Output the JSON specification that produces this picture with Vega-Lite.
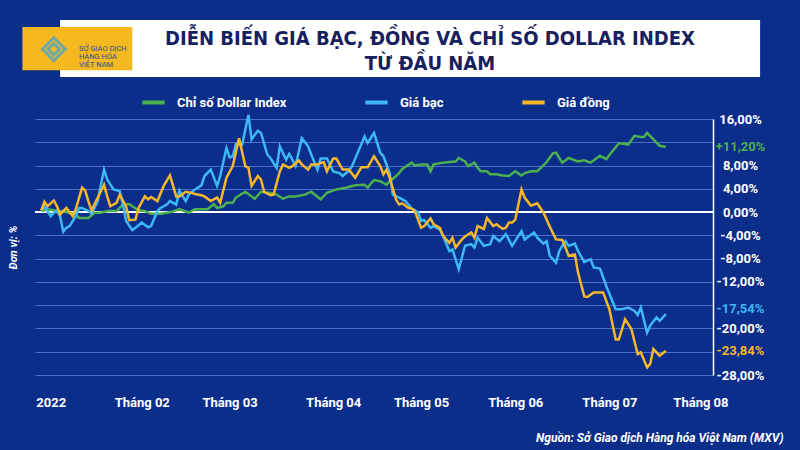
{
  "$schema": "https://vega.github.io/schema/vega-lite/v6.json",
  "autosize": "none",
  "width": 678,
  "height": 256,
  "padding": {"left": 35, "top": 119, "right": 87, "bottom": 75},
  "background": "#0b2e8a",
  "config": {"view": {"stroke": null}, "font": "Roboto"},
  "title": {
    "text": ["DIỄN BIẾN GIÁ BẠC, ĐỒNG VÀ CHỈ SỐ DOLLAR INDEX", "TỪ ĐẦU NĂM"],
    "font": "Liberation Sans Narrow, DejaVu Sans Condensed, Roboto",
    "fontSize": 20,
    "fontWeight": "bold",
    "color": "#17205e",
    "lineHeight": 25,
    "anchor": "middle",
    "frame": "group",
    "dx": 56,
    "dy": 58
  },
  "resolve": {"axis": {"x": "independent", "y": "independent"}},
  "layer": [
    {
      "data": {"values": [{}]},
      "mark": {"type": "rect", "color": "#ffffff", "clip": false},
      "encoding": {
        "x": {"datum": {"year": 2022, "month": 1, "date": 9, "utc": true}, "type": "temporal", "axis": null,
              "scale": {"type": "utc", "domain": [{"year": 2022, "month": 1, "date": 1, "utc": true}, {"year": 2022, "month": 8, "date": 5, "utc": true}]}},
        "x2": {"datum": {"year": 2022, "month": 8, "date": 20, "utc": true}},
        "y": {"datum": 33.0, "type": "quantitative", "axis": null, "scale": {"domain": [-28, 16]}},
        "y2": {"datum": 23.2}
      }
    },
    {
      "data": {"values": [{}]},
      "mark": {"type": "rect", "color": "#f6b81f", "clip": false},
      "encoding": {
        "x": {"datum": {"year": 2021, "month": 12, "date": 28, "utc": true}, "type": "temporal", "axis": null,
              "scale": {"type": "utc", "domain": [{"year": 2022, "month": 1, "date": 1, "utc": true}, {"year": 2022, "month": 8, "date": 5, "utc": true}]}},
        "x2": {"datum": {"year": 2022, "month": 2, "date": 1, "utc": true}},
        "y": {"datum": 31.8, "type": "quantitative", "axis": null, "scale": {"domain": [-28, 16]}},
        "y2": {"datum": 24.4}
      }
    },
    {
      "data": {"values": [{}]},
      "mark": {"type": "point", "shape": "diamond", "filled": false, "size": 520, "strokeWidth": 3, "color": "#35a3dc", "clip": false},
      "encoding": {
        "x": {"datum": {"year": 2022, "month": 1, "date": 7, "utc": true}, "type": "temporal", "axis": null,
              "scale": {"type": "utc", "domain": [{"year": 2022, "month": 1, "date": 1, "utc": true}, {"year": 2022, "month": 8, "date": 5, "utc": true}]}},
        "y": {"datum": 28.0, "type": "quantitative", "axis": null, "scale": {"domain": [-28, 16]}}
      }
    },
    {
      "data": {"values": [{}]},
      "mark": {"type": "point", "shape": "diamond", "filled": false, "size": 130, "strokeWidth": 3, "color": "#35a3dc", "clip": false},
      "encoding": {
        "x": {"datum": {"year": 2022, "month": 1, "date": 7, "utc": true}, "type": "temporal", "axis": null,
              "scale": {"type": "utc", "domain": [{"year": 2022, "month": 1, "date": 1, "utc": true}, {"year": 2022, "month": 8, "date": 5, "utc": true}]}},
        "y": {"datum": 28.0, "type": "quantitative", "axis": null, "scale": {"domain": [-28, 16]}}
      }
    },
    {
      "data": {"values": [{}]},
      "mark": {"type": "text", "text": "SỞ GIAO DỊCH\nHÀNG HÓA\nVIỆT NAM", "lineBreak": "\n", "align": "left", "baseline": "middle",
               "fontSize": 7.5, "lineHeight": 8, "color": "#1b4f9c", "clip": false},
      "encoding": {
        "x": {"datum": {"year": 2022, "month": 1, "date": 15, "utc": true}, "type": "temporal", "axis": null,
              "scale": {"type": "utc", "domain": [{"year": 2022, "month": 1, "date": 1, "utc": true}, {"year": 2022, "month": 8, "date": 5, "utc": true}]}},
        "y": {"datum": 28.0, "type": "quantitative", "axis": null, "scale": {"domain": [-28, 16]}}
      }
    },
    {
      "data": {"values": [{}]},
      "mark": {"type": "rule", "color": "#ffffff", "strokeWidth": 2},
      "encoding": {
        "y": {
          "datum": 0,
          "type": "quantitative",
          "scale": {"domain": [-28, 16]},
          "axis": {
            "orient": "left",
            "values": [-28, -24, -20, -16, -12, -8, -4, 0, 4, 8, 12, 16],
            "grid": true,
            "gridColor": "#4d70c6",
            "gridWidth": 1,
            "labels": false,
            "ticks": false,
            "domain": false,
            "title": "Đơn vị: %",
            "titleColor": "#ffffff",
            "titleFont": "Roboto",
            "titleFontStyle": "italic",
            "titleFontWeight": "bold",
            "titleFontSize": 11,
            "titlePadding": 17
          }
        }
      }
    },
    {
      "data": {
        "values": [
          {"date": "2022-01-03", "series": "Chỉ số Dollar Index", "value": 0.2},
          {"date": "2022-01-05", "series": "Chỉ số Dollar Index", "value": 0.5},
          {"date": "2022-01-07", "series": "Chỉ số Dollar Index", "value": 0.3},
          {"date": "2022-01-10", "series": "Chỉ số Dollar Index", "value": 0.1},
          {"date": "2022-01-12", "series": "Chỉ số Dollar Index", "value": -0.1},
          {"date": "2022-01-14", "series": "Chỉ số Dollar Index", "value": -0.4},
          {"date": "2022-01-15", "series": "Chỉ số Dollar Index", "value": -1.0},
          {"date": "2022-01-18", "series": "Chỉ số Dollar Index", "value": -1.0},
          {"date": "2022-01-20", "series": "Chỉ số Dollar Index", "value": -0.1},
          {"date": "2022-01-22", "series": "Chỉ số Dollar Index", "value": -0.1},
          {"date": "2022-01-24", "series": "Chỉ số Dollar Index", "value": 0.2},
          {"date": "2022-01-27", "series": "Chỉ số Dollar Index", "value": 0.2},
          {"date": "2022-01-29", "series": "Chỉ số Dollar Index", "value": 1.3},
          {"date": "2022-01-31", "series": "Chỉ số Dollar Index", "value": 1.4},
          {"date": "2022-02-01", "series": "Chỉ số Dollar Index", "value": 1.0},
          {"date": "2022-02-03", "series": "Chỉ số Dollar Index", "value": 0.3},
          {"date": "2022-02-05", "series": "Chỉ số Dollar Index", "value": 0.2},
          {"date": "2022-02-07", "series": "Chỉ số Dollar Index", "value": -0.3},
          {"date": "2022-02-10", "series": "Chỉ số Dollar Index", "value": -0.3},
          {"date": "2022-02-12", "series": "Chỉ số Dollar Index", "value": -0.1},
          {"date": "2022-02-14", "series": "Chỉ số Dollar Index", "value": 0.1},
          {"date": "2022-02-16", "series": "Chỉ số Dollar Index", "value": 0.5},
          {"date": "2022-02-18", "series": "Chỉ số Dollar Index", "value": 0.1},
          {"date": "2022-02-19", "series": "Chỉ số Dollar Index", "value": -0.1},
          {"date": "2022-02-21", "series": "Chỉ số Dollar Index", "value": 0.5},
          {"date": "2022-02-25", "series": "Chỉ số Dollar Index", "value": 0.5},
          {"date": "2022-02-27", "series": "Chỉ số Dollar Index", "value": 1.4},
          {"date": "2022-02-28", "series": "Chỉ số Dollar Index", "value": 0.7},
          {"date": "2022-03-02", "series": "Chỉ số Dollar Index", "value": 1.0},
          {"date": "2022-03-03", "series": "Chỉ số Dollar Index", "value": 1.6},
          {"date": "2022-03-05", "series": "Chỉ số Dollar Index", "value": 1.6},
          {"date": "2022-03-06", "series": "Chỉ số Dollar Index", "value": 2.5},
          {"date": "2022-03-09", "series": "Chỉ số Dollar Index", "value": 3.5},
          {"date": "2022-03-12", "series": "Chỉ số Dollar Index", "value": 2.3},
          {"date": "2022-03-14", "series": "Chỉ số Dollar Index", "value": 3.5},
          {"date": "2022-03-17", "series": "Chỉ số Dollar Index", "value": 3.3},
          {"date": "2022-03-19", "series": "Chỉ số Dollar Index", "value": 3.0},
          {"date": "2022-03-21", "series": "Chỉ số Dollar Index", "value": 2.3},
          {"date": "2022-03-23", "series": "Chỉ số Dollar Index", "value": 2.7},
          {"date": "2022-03-25", "series": "Chỉ số Dollar Index", "value": 2.7},
          {"date": "2022-03-28", "series": "Chỉ số Dollar Index", "value": 3.0},
          {"date": "2022-03-30", "series": "Chỉ số Dollar Index", "value": 3.5},
          {"date": "2022-04-02", "series": "Chỉ số Dollar Index", "value": 2.2},
          {"date": "2022-04-04", "series": "Chỉ số Dollar Index", "value": 3.3},
          {"date": "2022-04-07", "series": "Chỉ số Dollar Index", "value": 3.9},
          {"date": "2022-04-10", "series": "Chỉ số Dollar Index", "value": 4.2},
          {"date": "2022-04-13", "series": "Chỉ số Dollar Index", "value": 4.6},
          {"date": "2022-04-16", "series": "Chỉ số Dollar Index", "value": 4.7},
          {"date": "2022-04-17", "series": "Chỉ số Dollar Index", "value": 4.2},
          {"date": "2022-04-18", "series": "Chỉ số Dollar Index", "value": 4.9},
          {"date": "2022-04-19", "series": "Chỉ số Dollar Index", "value": 5.5},
          {"date": "2022-04-21", "series": "Chỉ số Dollar Index", "value": 5.3},
          {"date": "2022-04-23", "series": "Chỉ số Dollar Index", "value": 4.7},
          {"date": "2022-04-24", "series": "Chỉ số Dollar Index", "value": 5.3},
          {"date": "2022-04-25", "series": "Chỉ số Dollar Index", "value": 5.7},
          {"date": "2022-04-27", "series": "Chỉ số Dollar Index", "value": 6.7},
          {"date": "2022-04-28", "series": "Chỉ số Dollar Index", "value": 7.4},
          {"date": "2022-05-01", "series": "Chỉ số Dollar Index", "value": 8.5},
          {"date": "2022-05-02", "series": "Chỉ số Dollar Index", "value": 8.0},
          {"date": "2022-05-04", "series": "Chỉ số Dollar Index", "value": 8.2},
          {"date": "2022-05-06", "series": "Chỉ số Dollar Index", "value": 8.2},
          {"date": "2022-05-07", "series": "Chỉ số Dollar Index", "value": 7.0},
          {"date": "2022-05-08", "series": "Chỉ số Dollar Index", "value": 8.2},
          {"date": "2022-05-11", "series": "Chỉ số Dollar Index", "value": 8.5},
          {"date": "2022-05-13", "series": "Chỉ số Dollar Index", "value": 8.6},
          {"date": "2022-05-15", "series": "Chỉ số Dollar Index", "value": 8.7},
          {"date": "2022-05-16", "series": "Chỉ số Dollar Index", "value": 9.3},
          {"date": "2022-05-18", "series": "Chỉ số Dollar Index", "value": 8.7},
          {"date": "2022-05-19", "series": "Chỉ số Dollar Index", "value": 7.9},
          {"date": "2022-05-21", "series": "Chỉ số Dollar Index", "value": 8.5},
          {"date": "2022-05-22", "series": "Chỉ số Dollar Index", "value": 7.6},
          {"date": "2022-05-23", "series": "Chỉ số Dollar Index", "value": 7.0},
          {"date": "2022-05-25", "series": "Chỉ số Dollar Index", "value": 7.0},
          {"date": "2022-05-26", "series": "Chỉ số Dollar Index", "value": 6.5},
          {"date": "2022-05-28", "series": "Chỉ số Dollar Index", "value": 6.5},
          {"date": "2022-05-30", "series": "Chỉ số Dollar Index", "value": 6.3},
          {"date": "2022-06-01", "series": "Chỉ số Dollar Index", "value": 6.2},
          {"date": "2022-06-03", "series": "Chỉ số Dollar Index", "value": 7.0},
          {"date": "2022-06-05", "series": "Chỉ số Dollar Index", "value": 6.3},
          {"date": "2022-06-06", "series": "Chỉ số Dollar Index", "value": 6.7},
          {"date": "2022-06-08", "series": "Chỉ số Dollar Index", "value": 7.0},
          {"date": "2022-06-10", "series": "Chỉ số Dollar Index", "value": 7.0},
          {"date": "2022-06-13", "series": "Chỉ số Dollar Index", "value": 8.6},
          {"date": "2022-06-15", "series": "Chỉ số Dollar Index", "value": 10.1},
          {"date": "2022-06-16", "series": "Chỉ số Dollar Index", "value": 10.2},
          {"date": "2022-06-18", "series": "Chỉ số Dollar Index", "value": 8.5},
          {"date": "2022-06-20", "series": "Chỉ số Dollar Index", "value": 9.3},
          {"date": "2022-06-23", "series": "Chỉ số Dollar Index", "value": 8.7},
          {"date": "2022-06-25", "series": "Chỉ số Dollar Index", "value": 8.9},
          {"date": "2022-06-27", "series": "Chỉ số Dollar Index", "value": 8.5},
          {"date": "2022-06-30", "series": "Chỉ số Dollar Index", "value": 9.7},
          {"date": "2022-07-02", "series": "Chỉ số Dollar Index", "value": 9.1},
          {"date": "2022-07-04", "series": "Chỉ số Dollar Index", "value": 10.5},
          {"date": "2022-07-06", "series": "Chỉ số Dollar Index", "value": 11.8},
          {"date": "2022-07-07", "series": "Chỉ số Dollar Index", "value": 11.8},
          {"date": "2022-07-09", "series": "Chỉ số Dollar Index", "value": 11.6},
          {"date": "2022-07-11", "series": "Chỉ số Dollar Index", "value": 13.1},
          {"date": "2022-07-13", "series": "Chỉ số Dollar Index", "value": 12.9},
          {"date": "2022-07-14", "series": "Chỉ số Dollar Index", "value": 12.9},
          {"date": "2022-07-15", "series": "Chỉ số Dollar Index", "value": 13.6},
          {"date": "2022-07-17", "series": "Chỉ số Dollar Index", "value": 12.5},
          {"date": "2022-07-19", "series": "Chỉ số Dollar Index", "value": 11.4},
          {"date": "2022-07-21", "series": "Chỉ số Dollar Index", "value": 11.2},

          {"date": "2022-01-03", "series": "Giá bạc", "value": 0.3},
          {"date": "2022-01-04", "series": "Giá bạc", "value": 1.0},
          {"date": "2022-01-06", "series": "Giá bạc", "value": -0.7},
          {"date": "2022-01-07", "series": "Giá bạc", "value": -0.1},
          {"date": "2022-01-08", "series": "Giá bạc", "value": 0.2},
          {"date": "2022-01-09", "series": "Giá bạc", "value": -0.7},
          {"date": "2022-01-10", "series": "Giá bạc", "value": -3.4},
          {"date": "2022-01-11", "series": "Giá bạc", "value": -2.7},
          {"date": "2022-01-12", "series": "Giá bạc", "value": -2.4},
          {"date": "2022-01-14", "series": "Giá bạc", "value": -0.7},
          {"date": "2022-01-15", "series": "Giá bạc", "value": 0.7},
          {"date": "2022-01-16", "series": "Giá bạc", "value": 0.7},
          {"date": "2022-01-18", "series": "Giá bạc", "value": 0.2},
          {"date": "2022-01-19", "series": "Giá bạc", "value": -0.3},
          {"date": "2022-01-21", "series": "Giá bạc", "value": 1.9},
          {"date": "2022-01-22", "series": "Giá bạc", "value": 4.7},
          {"date": "2022-01-23", "series": "Giá bạc", "value": 7.3},
          {"date": "2022-01-24", "series": "Giá bạc", "value": 5.6},
          {"date": "2022-01-26", "series": "Giá bạc", "value": 3.9},
          {"date": "2022-01-28", "series": "Giá bạc", "value": 3.6},
          {"date": "2022-01-29", "series": "Giá bạc", "value": 1.3},
          {"date": "2022-01-30", "series": "Giá bạc", "value": -1.5},
          {"date": "2022-02-01", "series": "Giá bạc", "value": -3.1},
          {"date": "2022-02-02", "series": "Giá bạc", "value": -2.7},
          {"date": "2022-02-04", "series": "Giá bạc", "value": -1.8},
          {"date": "2022-02-06", "series": "Giá bạc", "value": -2.6},
          {"date": "2022-02-07", "series": "Giá bạc", "value": -2.4},
          {"date": "2022-02-09", "series": "Giá bạc", "value": 0.2},
          {"date": "2022-02-10", "series": "Giá bạc", "value": 0.7},
          {"date": "2022-02-12", "series": "Giá bạc", "value": 1.3},
          {"date": "2022-02-13", "series": "Giá bạc", "value": 1.9},
          {"date": "2022-02-15", "series": "Giá bạc", "value": 1.3},
          {"date": "2022-02-16", "series": "Giá bạc", "value": 3.7},
          {"date": "2022-02-18", "series": "Giá bạc", "value": 1.9},
          {"date": "2022-02-19", "series": "Giá bạc", "value": 3.0},
          {"date": "2022-02-21", "series": "Giá bạc", "value": 3.9},
          {"date": "2022-02-23", "series": "Giá bạc", "value": 4.6},
          {"date": "2022-02-24", "series": "Giá bạc", "value": 6.2},
          {"date": "2022-02-26", "series": "Giá bạc", "value": 7.3},
          {"date": "2022-02-28", "series": "Giá bạc", "value": 4.5},
          {"date": "2022-03-01", "series": "Giá bạc", "value": 6.2},
          {"date": "2022-03-03", "series": "Giá bạc", "value": 11.0},
          {"date": "2022-03-04", "series": "Giá bạc", "value": 9.4},
          {"date": "2022-03-05", "series": "Giá bạc", "value": 9.6},
          {"date": "2022-03-06", "series": "Giá bạc", "value": 11.7},
          {"date": "2022-03-08", "series": "Giá bạc", "value": 11.6},
          {"date": "2022-03-10", "series": "Giá bạc", "value": 16.7},
          {"date": "2022-03-11", "series": "Giá bạc", "value": 12.5},
          {"date": "2022-03-13", "series": "Giá bạc", "value": 14.0},
          {"date": "2022-03-14", "series": "Giá bạc", "value": 13.6},
          {"date": "2022-03-16", "series": "Giá bạc", "value": 9.9},
          {"date": "2022-03-17", "series": "Giá bạc", "value": 9.3},
          {"date": "2022-03-19", "series": "Giá bạc", "value": 7.6},
          {"date": "2022-03-20", "series": "Giá bạc", "value": 11.3},
          {"date": "2022-03-22", "series": "Giá bạc", "value": 9.0},
          {"date": "2022-03-23", "series": "Giá bạc", "value": 10.0},
          {"date": "2022-03-24", "series": "Giá bạc", "value": 9.0},
          {"date": "2022-03-25", "series": "Giá bạc", "value": 7.9},
          {"date": "2022-03-27", "series": "Giá bạc", "value": 12.7},
          {"date": "2022-03-29", "series": "Giá bạc", "value": 11.3},
          {"date": "2022-03-30", "series": "Giá bạc", "value": 9.9},
          {"date": "2022-04-01", "series": "Giá bạc", "value": 7.3},
          {"date": "2022-04-02", "series": "Giá bạc", "value": 9.2},
          {"date": "2022-04-04", "series": "Giá bạc", "value": 9.2},
          {"date": "2022-04-06", "series": "Giá bạc", "value": 7.0},
          {"date": "2022-04-08", "series": "Giá bạc", "value": 6.7},
          {"date": "2022-04-09", "series": "Giá bạc", "value": 6.2},
          {"date": "2022-04-11", "series": "Giá bạc", "value": 7.1},
          {"date": "2022-04-12", "series": "Giá bạc", "value": 7.9},
          {"date": "2022-04-16", "series": "Giá bạc", "value": 13.0},
          {"date": "2022-04-17", "series": "Giá bạc", "value": 11.9},
          {"date": "2022-04-19", "series": "Giá bạc", "value": 13.6},
          {"date": "2022-04-21", "series": "Giá bạc", "value": 10.2},
          {"date": "2022-04-22", "series": "Giá bạc", "value": 9.6},
          {"date": "2022-04-24", "series": "Giá bạc", "value": 6.7},
          {"date": "2022-04-25", "series": "Giá bạc", "value": 3.0},
          {"date": "2022-04-27", "series": "Giá bạc", "value": 2.5},
          {"date": "2022-04-29", "series": "Giá bạc", "value": 1.9},
          {"date": "2022-05-01", "series": "Giá bạc", "value": 0.6},
          {"date": "2022-05-03", "series": "Giá bạc", "value": 0.0},
          {"date": "2022-05-04", "series": "Giá bạc", "value": -1.5},
          {"date": "2022-05-05", "series": "Giá bạc", "value": -1.4},
          {"date": "2022-05-07", "series": "Giá bạc", "value": -2.7},
          {"date": "2022-05-08", "series": "Giá bạc", "value": -2.4},
          {"date": "2022-05-10", "series": "Giá bạc", "value": -3.0},
          {"date": "2022-05-11", "series": "Giá bạc", "value": -4.1},
          {"date": "2022-05-13", "series": "Giá bạc", "value": -6.7},
          {"date": "2022-05-14", "series": "Giá bạc", "value": -6.4},
          {"date": "2022-05-16", "series": "Giá bạc", "value": -9.8},
          {"date": "2022-05-17", "series": "Giá bạc", "value": -7.8},
          {"date": "2022-05-18", "series": "Giá bạc", "value": -5.8},
          {"date": "2022-05-20", "series": "Giá bạc", "value": -5.5},
          {"date": "2022-05-21", "series": "Giá bạc", "value": -6.1},
          {"date": "2022-05-22", "series": "Giá bạc", "value": -4.4},
          {"date": "2022-05-24", "series": "Giá bạc", "value": -5.8},
          {"date": "2022-05-26", "series": "Giá bạc", "value": -5.5},
          {"date": "2022-05-27", "series": "Giá bạc", "value": -4.1},
          {"date": "2022-05-29", "series": "Giá bạc", "value": -5.0},
          {"date": "2022-05-31", "series": "Giá bạc", "value": -3.8},
          {"date": "2022-06-02", "series": "Giá bạc", "value": -5.8},
          {"date": "2022-06-04", "series": "Giá bạc", "value": -4.1},
          {"date": "2022-06-05", "series": "Giá bạc", "value": -3.3},
          {"date": "2022-06-06", "series": "Giá bạc", "value": -4.7},
          {"date": "2022-06-09", "series": "Giá bạc", "value": -3.5},
          {"date": "2022-06-10", "series": "Giá bạc", "value": -4.4},
          {"date": "2022-06-12", "series": "Giá bạc", "value": -5.4},
          {"date": "2022-06-13", "series": "Giá bạc", "value": -5.0},
          {"date": "2022-06-14", "series": "Giá bạc", "value": -7.5},
          {"date": "2022-06-16", "series": "Giá bạc", "value": -8.7},
          {"date": "2022-06-17", "series": "Giá bạc", "value": -6.7},
          {"date": "2022-06-19", "series": "Giá bạc", "value": -5.0},
          {"date": "2022-06-20", "series": "Giá bạc", "value": -5.8},
          {"date": "2022-06-22", "series": "Giá bạc", "value": -5.4},
          {"date": "2022-06-23", "series": "Giá bạc", "value": -6.7},
          {"date": "2022-06-25", "series": "Giá bạc", "value": -8.6},
          {"date": "2022-06-27", "series": "Giá bạc", "value": -8.1},
          {"date": "2022-06-28", "series": "Giá bạc", "value": -9.5},
          {"date": "2022-06-30", "series": "Giá bạc", "value": -9.7},
          {"date": "2022-07-02", "series": "Giá bạc", "value": -12.7},
          {"date": "2022-07-05", "series": "Giá bạc", "value": -16.7},
          {"date": "2022-07-07", "series": "Giá bạc", "value": -16.7},
          {"date": "2022-07-09", "series": "Giá bạc", "value": -16.4},
          {"date": "2022-07-11", "series": "Giá bạc", "value": -17.0},
          {"date": "2022-07-12", "series": "Giá bạc", "value": -17.7},
          {"date": "2022-07-13", "series": "Giá bạc", "value": -16.4},
          {"date": "2022-07-15", "series": "Giá bạc", "value": -20.7},
          {"date": "2022-07-16", "series": "Giá bạc", "value": -19.5},
          {"date": "2022-07-18", "series": "Giá bạc", "value": -18.1},
          {"date": "2022-07-19", "series": "Giá bạc", "value": -18.7},
          {"date": "2022-07-21", "series": "Giá bạc", "value": -17.54},

          {"date": "2022-01-03", "series": "Giá đồng", "value": 0.3},
          {"date": "2022-01-04", "series": "Giá đồng", "value": 1.8},
          {"date": "2022-01-05", "series": "Giá đồng", "value": 1.0},
          {"date": "2022-01-07", "series": "Giá đồng", "value": 2.0},
          {"date": "2022-01-08", "series": "Giá đồng", "value": 1.0},
          {"date": "2022-01-09", "series": "Giá đồng", "value": -0.4},
          {"date": "2022-01-11", "series": "Giá đồng", "value": 0.7},
          {"date": "2022-01-13", "series": "Giá đồng", "value": -0.7},
          {"date": "2022-01-14", "series": "Giá đồng", "value": 0.5},
          {"date": "2022-01-16", "series": "Giá đồng", "value": 4.2},
          {"date": "2022-01-17", "series": "Giá đồng", "value": 3.7},
          {"date": "2022-01-18", "series": "Giá đồng", "value": 1.9},
          {"date": "2022-01-19", "series": "Giá đồng", "value": 0.3},
          {"date": "2022-01-21", "series": "Giá đồng", "value": 2.5},
          {"date": "2022-01-23", "series": "Giá đồng", "value": 4.7},
          {"date": "2022-01-24", "series": "Giá đồng", "value": 2.7},
          {"date": "2022-01-25", "series": "Giá đồng", "value": 1.0},
          {"date": "2022-01-27", "series": "Giá đồng", "value": 1.6},
          {"date": "2022-01-28", "series": "Giá đồng", "value": 3.0},
          {"date": "2022-01-30", "series": "Giá đồng", "value": 1.0},
          {"date": "2022-01-31", "series": "Giá đồng", "value": -1.4},
          {"date": "2022-02-02", "series": "Giá đồng", "value": -1.3},
          {"date": "2022-02-03", "series": "Giá đồng", "value": 0.7},
          {"date": "2022-02-05", "series": "Giá đồng", "value": 2.7},
          {"date": "2022-02-06", "series": "Giá đồng", "value": 2.2},
          {"date": "2022-02-07", "series": "Giá đồng", "value": 2.6},
          {"date": "2022-02-09", "series": "Giá đồng", "value": 1.9},
          {"date": "2022-02-11", "series": "Giá đồng", "value": 4.5},
          {"date": "2022-02-13", "series": "Giá đồng", "value": 6.3},
          {"date": "2022-02-15", "series": "Giá đồng", "value": 2.7},
          {"date": "2022-02-16", "series": "Giá đồng", "value": 2.7},
          {"date": "2022-02-18", "series": "Giá đồng", "value": 3.5},
          {"date": "2022-02-20", "series": "Giá đồng", "value": 3.3},
          {"date": "2022-02-21", "series": "Giá đồng", "value": 3.1},
          {"date": "2022-02-23", "series": "Giá đồng", "value": 2.9},
          {"date": "2022-02-24", "series": "Giá đồng", "value": 2.7},
          {"date": "2022-02-26", "series": "Giá đồng", "value": 1.9},
          {"date": "2022-02-28", "series": "Giá đồng", "value": 2.5},
          {"date": "2022-03-01", "series": "Giá đồng", "value": 1.6},
          {"date": "2022-03-03", "series": "Giá đồng", "value": 5.9},
          {"date": "2022-03-05", "series": "Giá đồng", "value": 7.9},
          {"date": "2022-03-07", "series": "Giá đồng", "value": 12.7},
          {"date": "2022-03-09", "series": "Giá đồng", "value": 7.9},
          {"date": "2022-03-10", "series": "Giá đồng", "value": 7.6},
          {"date": "2022-03-11", "series": "Giá đồng", "value": 4.5},
          {"date": "2022-03-13", "series": "Giá đồng", "value": 6.2},
          {"date": "2022-03-14", "series": "Giá đồng", "value": 5.6},
          {"date": "2022-03-15", "series": "Giá đồng", "value": 3.5},
          {"date": "2022-03-17", "series": "Giá đồng", "value": 2.9},
          {"date": "2022-03-18", "series": "Giá đồng", "value": 3.0},
          {"date": "2022-03-20", "series": "Giá đồng", "value": 7.0},
          {"date": "2022-03-21", "series": "Giá đồng", "value": 8.2},
          {"date": "2022-03-23", "series": "Giá đồng", "value": 7.6},
          {"date": "2022-03-24", "series": "Giá đồng", "value": 7.9},
          {"date": "2022-03-26", "series": "Giá đồng", "value": 8.9},
          {"date": "2022-03-27", "series": "Giá đồng", "value": 8.2},
          {"date": "2022-03-29", "series": "Giá đồng", "value": 7.3},
          {"date": "2022-03-30", "series": "Giá đồng", "value": 8.2},
          {"date": "2022-04-01", "series": "Giá đồng", "value": 8.2},
          {"date": "2022-04-03", "series": "Giá đồng", "value": 8.6},
          {"date": "2022-04-04", "series": "Giá đồng", "value": 7.0},
          {"date": "2022-04-06", "series": "Giá đồng", "value": 9.2},
          {"date": "2022-04-07", "series": "Giá đồng", "value": 9.2},
          {"date": "2022-04-09", "series": "Giá đồng", "value": 7.3},
          {"date": "2022-04-11", "series": "Giá đồng", "value": 7.3},
          {"date": "2022-04-13", "series": "Giá đồng", "value": 5.9},
          {"date": "2022-04-15", "series": "Giá đồng", "value": 7.7},
          {"date": "2022-04-17", "series": "Giá đồng", "value": 7.7},
          {"date": "2022-04-19", "series": "Giá đồng", "value": 9.6},
          {"date": "2022-04-21", "series": "Giá đồng", "value": 7.9},
          {"date": "2022-04-22", "series": "Giá đồng", "value": 6.5},
          {"date": "2022-04-23", "series": "Giá đồng", "value": 7.3},
          {"date": "2022-04-24", "series": "Giá đồng", "value": 5.9},
          {"date": "2022-04-26", "series": "Giá đồng", "value": 2.2},
          {"date": "2022-04-27", "series": "Giá đồng", "value": 1.3},
          {"date": "2022-04-28", "series": "Giá đồng", "value": 1.5},
          {"date": "2022-04-30", "series": "Giá đồng", "value": 0.7},
          {"date": "2022-05-01", "series": "Giá đồng", "value": 0.6},
          {"date": "2022-05-02", "series": "Giá đồng", "value": 0.2},
          {"date": "2022-05-04", "series": "Giá đồng", "value": -2.7},
          {"date": "2022-05-05", "series": "Giá đồng", "value": -2.4},
          {"date": "2022-05-07", "series": "Giá đồng", "value": -1.1},
          {"date": "2022-05-08", "series": "Giá đồng", "value": -2.1},
          {"date": "2022-05-10", "series": "Giá đồng", "value": -2.7},
          {"date": "2022-05-11", "series": "Giá đồng", "value": -4.1},
          {"date": "2022-05-13", "series": "Giá đồng", "value": -5.3},
          {"date": "2022-05-14", "series": "Giá đồng", "value": -4.4},
          {"date": "2022-05-15", "series": "Giá đồng", "value": -6.1},
          {"date": "2022-05-17", "series": "Giá đồng", "value": -4.7},
          {"date": "2022-05-18", "series": "Giá đồng", "value": -4.2},
          {"date": "2022-05-20", "series": "Giá đồng", "value": -3.5},
          {"date": "2022-05-21", "series": "Giá đồng", "value": -4.4},
          {"date": "2022-05-22", "series": "Giá đồng", "value": -2.4},
          {"date": "2022-05-24", "series": "Giá đồng", "value": -2.9},
          {"date": "2022-05-25", "series": "Giá đồng", "value": -1.0},
          {"date": "2022-05-27", "series": "Giá đồng", "value": -2.4},
          {"date": "2022-05-28", "series": "Giá đồng", "value": -2.1},
          {"date": "2022-05-30", "series": "Giá đồng", "value": -2.9},
          {"date": "2022-05-31", "series": "Giá đồng", "value": -2.7},
          {"date": "2022-06-01", "series": "Giá đồng", "value": -1.8},
          {"date": "2022-06-02", "series": "Giá đồng", "value": -1.8},
          {"date": "2022-06-03", "series": "Giá đồng", "value": -1.3},
          {"date": "2022-06-05", "series": "Giá đồng", "value": 3.9},
          {"date": "2022-06-06", "series": "Giá đồng", "value": 2.5},
          {"date": "2022-06-08", "series": "Giá đồng", "value": 1.1},
          {"date": "2022-06-10", "series": "Giá đồng", "value": 1.5},
          {"date": "2022-06-12", "series": "Giá đồng", "value": -0.1},
          {"date": "2022-06-14", "series": "Giá đồng", "value": -2.5},
          {"date": "2022-06-16", "series": "Giá đồng", "value": -4.7},
          {"date": "2022-06-18", "series": "Giá đồng", "value": -4.8},
          {"date": "2022-06-19", "series": "Giá đồng", "value": -6.1},
          {"date": "2022-06-20", "series": "Giá đồng", "value": -7.5},
          {"date": "2022-06-22", "series": "Giá đồng", "value": -7.3},
          {"date": "2022-06-23", "series": "Giá đồng", "value": -10.4},
          {"date": "2022-06-25", "series": "Giá đồng", "value": -14.5},
          {"date": "2022-06-26", "series": "Giá đồng", "value": -14.6},
          {"date": "2022-06-28", "series": "Giá đồng", "value": -13.8},
          {"date": "2022-07-01", "series": "Giá đồng", "value": -13.8},
          {"date": "2022-07-03", "series": "Giá đồng", "value": -16.7},
          {"date": "2022-07-05", "series": "Giá đồng", "value": -21.9},
          {"date": "2022-07-06", "series": "Giá đồng", "value": -21.9},
          {"date": "2022-07-08", "series": "Giá đồng", "value": -18.4},
          {"date": "2022-07-10", "series": "Giá đồng", "value": -20.1},
          {"date": "2022-07-12", "series": "Giá đồng", "value": -24.4},
          {"date": "2022-07-13", "series": "Giá đồng", "value": -24.1},
          {"date": "2022-07-15", "series": "Giá đồng", "value": -26.7},
          {"date": "2022-07-16", "series": "Giá đồng", "value": -26.1},
          {"date": "2022-07-17", "series": "Giá đồng", "value": -23.5},
          {"date": "2022-07-19", "series": "Giá đồng", "value": -24.7},
          {"date": "2022-07-21", "series": "Giá đồng", "value": -23.84}
        ]
      },
      "mark": {"type": "line", "strokeWidth": 2.5},
      "encoding": {
        "x": {
          "field": "date",
          "type": "temporal",
          "scale": {"type": "utc", "domain": [{"year": 2022, "month": 1, "date": 1, "utc": true}, {"year": 2022, "month": 8, "date": 5, "utc": true}]},
          "axis": {
            "values": [
              {"year": 2022, "month": 1, "date": 6, "utc": true},
              {"year": 2022, "month": 2, "date": 4, "utc": true},
              {"year": 2022, "month": 3, "date": 4, "utc": true},
              {"year": 2022, "month": 4, "date": 6, "utc": true},
              {"year": 2022, "month": 5, "date": 4, "utc": true},
              {"year": 2022, "month": 6, "date": 3, "utc": true},
              {"year": 2022, "month": 7, "date": 3, "utc": true},
              {"year": 2022, "month": 8, "date": 1, "utc": true}
            ],
            "labelExpr": "utcmonth(datum.value) == 0 ? '2022' : 'Tháng 0' + (utcmonth(datum.value) + 1)",
            "domain": false,
            "ticks": false,
            "grid": false,
            "labelColor": "#ffffff",
            "labelFont": "Roboto",
            "labelFontWeight": "bold",
            "labelFontSize": 13,
            "labelBaseline": "middle",
            "labelPadding": 27,
            "labelOverlap": false,
            "labelFlush": false,
            "labelBound": false,
            "title": "Nguồn: Sở Giao dịch Hàng hóa Việt Nam (MXV)",
            "titleX": 748,
            "titleY": 62,
            "titleAlign": "right",
            "titleBaseline": "middle",
            "titleColor": "#ffffff",
            "titleFont": "Roboto",
            "titleFontStyle": "italic",
            "titleFontWeight": "bold",
            "titleFontSize": 12
          }
        },
        "y": {
          "field": "value",
          "type": "quantitative",
          "scale": {"domain": [-28, 16]},
          "axis": {
            "orient": "right",
            "values": [16, 11.2, 8, 4, 0, -4, -8, -12, -17.54, -20, -23.84, -28],
            "labelExpr": "datum.value == 11.2 ? '+11,20%' : replace(replace(format(datum.value, '.2f'), '.', ','), '−', '-') + '%'",
            "grid": false,
            "ticks": false,
            "tickSize": 0,
            "domain": true,
            "domainColor": "#ffffff",
            "domainWidth": 1.5,
            "labelFont": "Roboto",
            "labelFontWeight": "bold",
            "labelFontSize": 13,
            "labelAlign": "center",
            "labelBaseline": "middle",
            "labelPadding": 27,
            "labelOverlap": false,
            "labelBound": false,
            "labelFlush": false,
            "labelColor": {
              "condition": [
                {"test": "datum.value == 11.2", "value": "#4caf50"},
                {"test": "datum.value == -17.54", "value": "#3db8f5"},
                {"test": "datum.value == -23.84", "value": "#f8b62a"}
              ],
              "value": "#ffffff"
            },
            "labelOffset": {"condition": {"test": "datum.value == -17.54", "value": -6}, "value": 0},
            "title": null
          }
        },
        "color": {
          "field": "series",
          "type": "nominal",
          "scale": {
            "domain": ["Chỉ số Dollar Index", "Giá bạc", "Giá đồng"],
            "range": ["#4caf50", "#3db8f5", "#f8b62a"]
          },
          "legend": {
            "orient": "none",
            "legendX": 105,
            "legendY": -30,
            "direction": "horizontal",
            "title": null,
            "symbolType": "stroke",
            "symbolStrokeWidth": 4,
            "symbolSize": 500,
            "labelColor": "#ffffff",
            "labelFont": "Roboto",
            "labelFontWeight": "bold",
            "labelFontSize": 13,
            "labelOffset": 10,
            "columnPadding": 70,
            "gridAlign": "none"
          }
        }
      }
    }
  ]
}
